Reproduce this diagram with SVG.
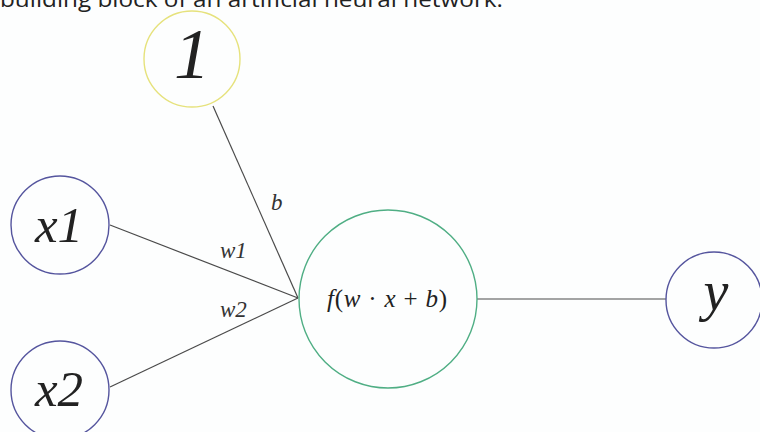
<svg xmlns="http://www.w3.org/2000/svg" width="760" height="432" viewBox="0 0 760 432">
<style>
.node{fill:none;stroke-width:1.4}
.in{stroke:#55559e}
.bias{stroke:#e6e27c}
.act{stroke:#4fae84}
.conn line{stroke:#4a4a4a;stroke-width:1.2}
.m{font-family:"Liberation Serif",serif;font-style:italic;fill:#222}
.lbl{font-family:"Liberation Serif",serif;font-style:italic;fill:#333;font-size:23px}
</style>
<rect width="760" height="432" fill="#fdfefe"/>
<text x="0" y="7" font-family="'Open Sans',sans-serif" font-size="22" fill="#222" textLength="503" lengthAdjust="spacingAndGlyphs">building block of an artificial neural network.</text>
<g id="connectors" class="conn">
<line x1="213" y1="106" x2="298" y2="298"/>
<line x1="110" y1="225" x2="298" y2="298"/>
<line x1="110" y1="387" x2="298" y2="298"/>
<line x1="477" y1="299" x2="666" y2="299"/>
<text class="lbl" x="271" y="210">b</text>
<text class="lbl" x="220" y="258">w1</text>
<text class="lbl" x="220" y="317">w2</text>
</g>
<g id="bias">
<circle class="node bias" cx="192" cy="59" r="48"/>
<text class="m" x="192" y="78" font-size="72" text-anchor="middle">1</text>
</g>
<g id="x1">
<circle class="node in" cx="60" cy="225" r="49"/>
<text class="m" x="59" y="242" font-size="51" text-anchor="middle">x1</text>
</g>
<g id="x2">
<circle class="node in" cx="60" cy="390" r="49"/>
<text class="m" x="59" y="406" font-size="51" text-anchor="middle">x2</text>
</g>
<g id="neuron">
<circle class="node act" cx="388" cy="299" r="89"/>
<text class="m" x="387" y="307" font-size="25" text-anchor="middle" textLength="120" lengthAdjust="spacing">f<tspan font-style="normal">(</tspan>w <tspan font-style="normal">·</tspan> x <tspan font-style="normal">+</tspan> b<tspan font-style="normal">)</tspan></text>
</g>
<g id="y">
<circle class="node in" cx="714" cy="300" r="48"/>
<text class="m" x="716" y="310" font-size="56" text-anchor="middle">y</text>
</g>
</svg>
